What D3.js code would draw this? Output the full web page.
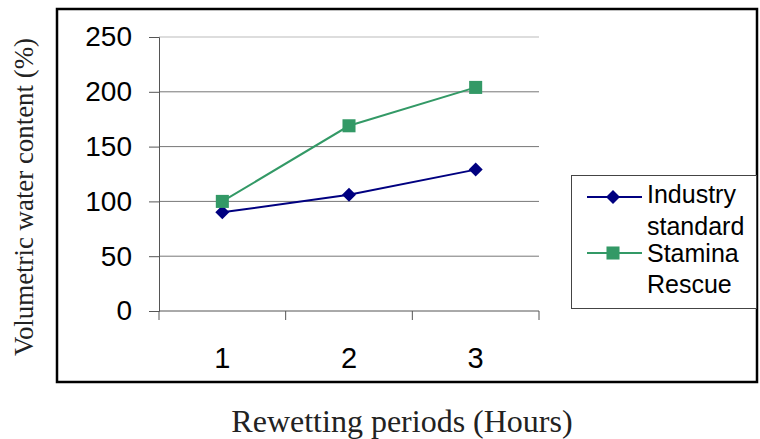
<!DOCTYPE html>
<html>
<head>
<meta charset="utf-8">
<script src="https://cdn.jsdelivr.net/npm/d3@7"></script>
<style>
  body { margin: 0; background: #fff; }
  text { font-family: "Liberation Sans", Arial, sans-serif; }
  .serif { font-family: "Liberation Serif", "Times New Roman", serif; fill: #222; }
</style>
</head>
<body>
<svg id="chart" width="760" height="439"></svg>
<script>
// values
var periods = ["1", "2", "3"];
var industry = [90, 106, 129];
var stamina = [100, 169, 204];
var yTicks = [0, 50, 100, 150, 200, 250];
var seriesNames = [["Industry", "standard"], ["Stamina", "Rescue"]];

var svg = d3.select("#chart");

var plotLeft = 159, plotRight = 539, plotTop = 37, plotBottom = 311;

var x = d3.scaleBand().domain(periods).range([plotLeft, plotRight]);
var y = d3.scaleLinear().domain([0, 250]).range([plotBottom, plotTop]);

// outer frame
svg.append("rect")
    .attr("x", 57).attr("y", 9)
    .attr("width", 700).attr("height", 373)
    .attr("fill", "none").attr("stroke", "#000").attr("stroke-width", 2.5);

// gridlines
svg.append("g")
    .selectAll("line")
    .data(yTicks.slice(1))
    .enter().append("line")
    .attr("x1", plotLeft).attr("x2", plotRight)
    .attr("y1", function(d) { return y(d); })
    .attr("y2", function(d) { return y(d); })
    .attr("stroke", function(d) { return d == 250 ? "#bbb" : "#777"; })
    .attr("stroke-width", 1);

// y axis
var yAxis = svg.append("g")
    .attr("transform", "translate(" + plotLeft + ",0)")
    .call(d3.axisLeft(y).tickValues(yTicks).tickSize(10).tickPadding(17));
yAxis.select(".domain").attr("stroke", "#555");
yAxis.selectAll(".tick line").attr("stroke", "#555");
yAxis.selectAll("text").attr("font-size", 28).attr("fill", "#000")
    .attr("font-family", "Liberation Sans, Arial, sans-serif");

// x axis with ticks on category boundaries
var xAxis = svg.append("g")
    .attr("transform", "translate(0," + plotBottom + ")");
xAxis.append("line")
    .attr("x1", plotLeft).attr("x2", plotRight)
    .attr("stroke", "#555");
xAxis.selectAll(".xt")
    .data(periods.concat(["end"]))
    .enter().append("line")
    .attr("class", "xt")
    .attr("x1", function(d, i) { return plotLeft + i * x.bandwidth(); })
    .attr("x2", function(d, i) { return plotLeft + i * x.bandwidth(); })
    .attr("y1", 0).attr("y2", 9)
    .attr("stroke", "#555");
xAxis.selectAll("text")
    .data(periods)
    .enter().append("text")
    .attr("x", function(d) { return x(d) + x.bandwidth() / 2; })
    .attr("y", 57)
    .attr("text-anchor", "middle")
    .attr("font-size", 29)
    .text(function(d) { return d; });

// lines
var line = d3.line()
    .x(function(d, i) { return x(periods[i]) + x.bandwidth() / 2; })
    .y(function(d) { return y(d); });

svg.append("path").datum(industry)
    .attr("d", line).attr("fill", "none")
    .attr("stroke", "#000080").attr("stroke-width", 2);
svg.append("path").datum(stamina)
    .attr("d", line).attr("fill", "none")
    .attr("stroke", "#339966").attr("stroke-width", 2);

var diamond = d3.symbol().type(d3.symbolDiamond2).size(125);
var square = d3.symbol().type(d3.symbolSquare).size(170);

svg.append("g").selectAll("path")
    .data(industry)
    .enter().append("path")
    .attr("d", diamond)
    .attr("transform", function(d, i) {
        return "translate(" + (x(periods[i]) + x.bandwidth() / 2) + "," + y(d) + ")";
    })
    .attr("fill", "#000080");

svg.append("g").selectAll("path")
    .data(stamina)
    .enter().append("path")
    .attr("d", square)
    .attr("transform", function(d, i) {
        return "translate(" + (x(periods[i]) + x.bandwidth() / 2) + "," + y(d) + ")";
    })
    .attr("fill", "#339966");

// legend
var legend = svg.append("g");
legend.append("rect")
    .attr("x", 571.5).attr("y", 175.5)
    .attr("width", 185).attr("height", 133)
    .attr("fill", "#fff").attr("stroke", "#444").attr("stroke-width", 1);

var legendColors = ["#000080", "#339966"];
var legendSyms = [diamond, square];
var legendY = [197, 253];
var legendBase = [[203, 235], [262, 293]];

seriesNames.forEach(function(name, i) {
    legend.append("line")
        .attr("x1", 587).attr("x2", 642)
        .attr("y1", legendY[i]).attr("y2", legendY[i])
        .attr("stroke", legendColors[i]).attr("stroke-width", 2);
    legend.append("path")
        .attr("d", legendSyms[i])
        .attr("transform", "translate(613," + legendY[i] + ")")
        .attr("fill", legendColors[i]);
    legend.append("text")
        .attr("x", 647).attr("y", legendBase[i][0])
        .attr("font-size", 25)
        .text(name[0]);
    legend.append("text")
        .attr("x", 647).attr("y", legendBase[i][1])
        .attr("font-size", 25)
        .text(name[1]);
});

// axis titles
svg.append("text")
    .attr("class", "serif")
    .attr("transform", "translate(33,197) rotate(-90)")
    .attr("text-anchor", "middle")
    .attr("font-size", 27.5)
    .attr("textLength", 318)
    .attr("lengthAdjust", "spacingAndGlyphs")
    .text("Volumetric water content (%)");

svg.append("text")
    .attr("class", "serif")
    .attr("x", 402).attr("y", 432)
    .attr("text-anchor", "middle")
    .attr("font-size", 32)
    .text("Rewetting periods (Hours)");
</script>
</body>
</html>
